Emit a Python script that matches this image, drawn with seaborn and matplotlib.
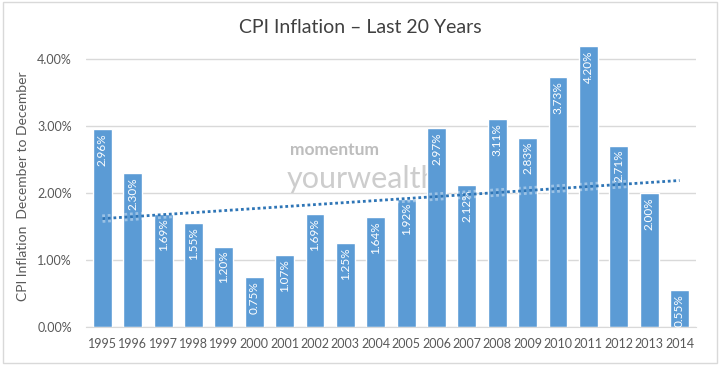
import numpy as np
import pandas as pd
import seaborn as sns
import matplotlib.pyplot as plt
import matplotlib.patheffects as pe
from matplotlib.patches import Rectangle

years = ["1995", "1996", "1997", "1998", "1999", "2000", "2001", "2002", "2003", "2004",
         "2005", "2006", "2007", "2008", "2009", "2010", "2011", "2012", "2013", "2014"]
cpi = [2.96, 2.30, 1.69, 1.55, 1.20, 0.75, 1.07, 1.69, 1.25, 1.64,
       1.92, 2.97, 2.12, 3.11, 2.83, 3.73, 4.20, 2.71, 2.00, 0.55]
# linear trendline as shown (value at first and last year)
trend_ends = [1.62, 2.19]

df = pd.DataFrame({"year": years, "cpi": cpi})

sns.set_style("white")
plt.rcParams["font.family"] = ["Lato", "DejaVu Sans"]

fig = plt.figure(figsize=(7.2, 3.65), dpi=100)
ax = fig.add_axes([0.119, 0.104, 0.848, 0.770])

sns.barplot(data=df, x="year", y="cpi", color="#5B9BD5", saturation=1,
            width=0.62, ax=ax, zorder=2)

# watermark
ax.text(0.334, 0.63, "momentum", transform=ax.transAxes, fontsize=12.5,
        va="center", color="#BDBDBD", zorder=1, fontweight="bold")
ax.text(0.330, 0.494, "yourwealth", transform=ax.transAxes, fontsize=22,
        va="baseline", color="#CDCDCD", zorder=1)

for i, v in enumerate(cpi):
    ax.text(i, v - 0.06, f"{v:.2f}%", rotation=90, ha="center", va="top",
            color="white", fontsize=8.5, zorder=4)

ax.plot([0, len(years) - 1], trend_ends, linestyle=(0, (1, 1)), color="#2E75B6",
        linewidth=2, zorder=5,
        path_effects=[pe.Stroke(linewidth=6, foreground="white", alpha=0.4), pe.Normal()])

ax.set_ylim(0, 4.2)
ax.set_xlim(-0.55, len(years) - 0.45)
ax.set_yticks([0, 1, 2, 3, 4])
ax.set_yticklabels([f"{t:.2f}%" for t in [0, 1, 2, 3, 4]])
ax.yaxis.grid(True, color="#D9D9D9", linewidth=1, zorder=0)
ax.set_axisbelow(True)
for s in ["top", "right", "left"]:
    ax.spines[s].set_visible(False)
ax.spines["bottom"].set_color("#D9D9D9")
ax.tick_params(axis="both", length=0, labelsize=9, colors="#595959")
ax.tick_params(axis="y", pad=10)
ax.tick_params(axis="x", pad=8)
ax.set_xlabel("")
ax.set_ylabel("CPI Inflation  December to December", fontsize=10, color="#595959",
              labelpad=6)

fig.text(0.5, 0.925, "CPI Inflation \u2013 Last 20 Years", ha="center", va="center",
         fontsize=14, color="#404040")

fig.patches.append(Rectangle((0.004, 0.006), 0.992, 0.988, transform=fig.transFigure,
                             fill=False, edgecolor="#D9D9D9", linewidth=1))

fig.savefig("out.png", dpi=100)
